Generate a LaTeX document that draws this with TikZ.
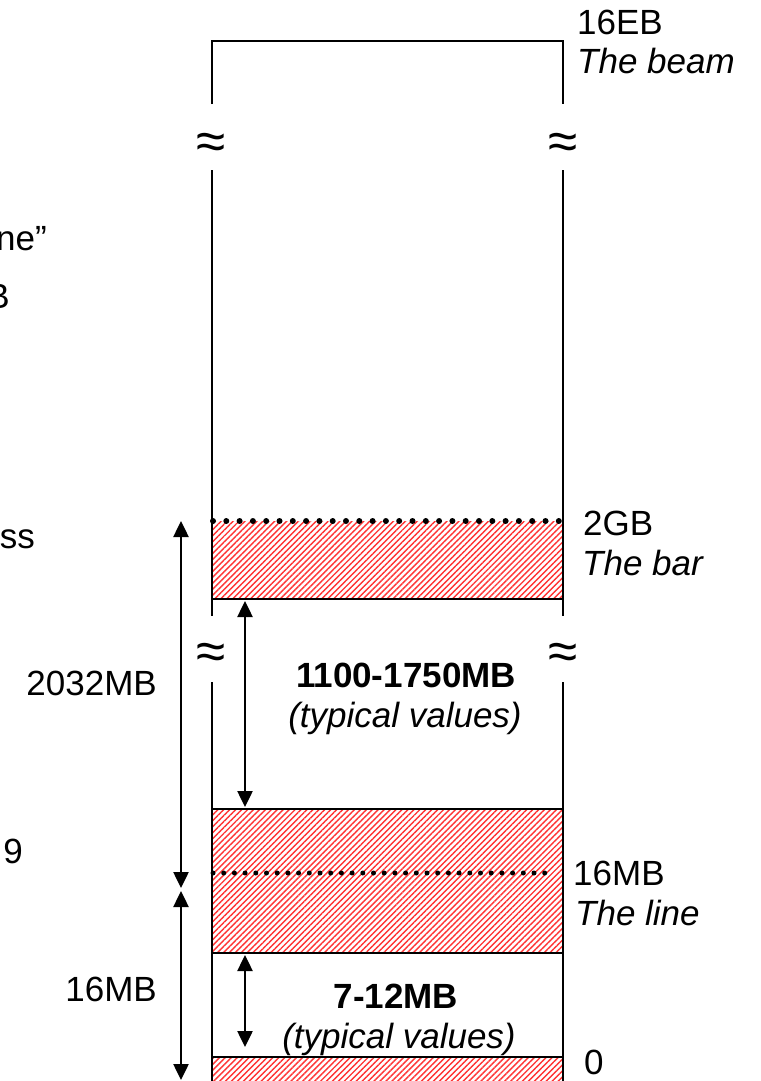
\documentclass[tikz,border=0pt]{standalone}
\usepackage{fontspec}
\setmainfont{Liberation Sans}
\usetikzlibrary{arrows.meta,patterns.meta}

\begin{document}
\begin{tikzpicture}[x=1pt,y=-1pt,
  wall/.style={line width=2.5pt},
  hatch/.style={pattern={Lines[angle=45,distance=4.2pt,line width=1.4pt]},pattern color=red!80},
  dots/.style={line width=6pt,line cap=round,dash pattern=on 0pt off 13.3pt},
  dim/.style={line width=2.5pt,{Triangle[width=15pt,length=16pt]}-{Triangle[width=15pt,length=16pt]}},
  txt/.style={font=\fontsize{35}{40}\selectfont,inner sep=0pt},
  levelval/.style={txt,anchor=base west},
  levelname/.style={inner sep=0pt,anchor=base west,font=\fontsize{35}{40}\selectfont\itshape},
  gap/.style={font=\fontsize{53}{53}\selectfont,inner sep=0pt}]
  \useasboundingbox (0,0) rectangle (760,1081);
  % hatched areas
  \fill[hatch] (212,521) rectangle (563,599);
  \fill[hatch] (212,809) rectangle (563,953);
  \fill[hatch] (212,1057) rectangle (563,1081);
  \draw[wall] (212,599) -- (563,599);
  \draw[wall] (212,809) -- (563,809);
  \draw[wall] (212,953) -- (563,953);
  \draw[wall] (212,1057) -- (563,1057);
  % walls, broken at the two gaps
  \draw[wall] (212,104) -- (212,41) -- (563,41) -- (563,104);
  \draw[wall] (212,170) -- (212,616);
  \draw[wall] (563,170) -- (563,616);
  \draw[wall] (212,682) -- (212,1081);
  \draw[wall] (563,682) -- (563,1081);
  \draw[dots] (213,521) -- (563,521);
  \draw[dots,line width=5pt,dash pattern=on 0pt off 10.7pt] (213,873) -- (555,873);
  \node[gap] (gap1l) at (211,146) {≈};
  \node[gap] (gap1r) at (563,146) {≈};
  \node[gap] (gap2l) at (211,656) {≈};
  \node[gap] (gap2r) at (563,656) {≈};
  % levels
  \node[levelval] (ebval) at (577,35) {16EB};
  \node[levelname] (ebname) at (577,74) {The beam};
  \node[levelval] (gbval) at (583,535) {2GB};
  \node[levelname] (gbname) at (582,575) {The bar};
  \node[levelval] (mbval) at (573,885) {16MB};
  \node[levelname] (mbname) at (575,925) {The line};
  \node[levelval] (zero) at (584,1074) {0};
  % spans
  \coordinate (spanTop) at (181,521);
  \coordinate (spanMidA) at (181,888);
  \coordinate (spanMidB) at (181,891);
  \coordinate (spanBot) at (181,1080);
  \coordinate (hiTop) at (245,601);
  \coordinate (hiBot) at (245,807);
  \coordinate (loTop) at (245,955);
  \coordinate (loBot) at (245,1047);
  \draw[dim] (spanTop) -- (spanMidA);
  \draw[dim] (spanMidB) -- (spanBot);
  \draw[dim] (hiTop) -- (hiBot);
  \draw[dim] (loTop) -- (loBot);
  \node[txt,anchor=base east] (hispan) at (157,695) {2032MB};
  \node[txt,anchor=base east] (lospan) at (157,1001) {16MB};
  \node[txt,anchor=base,font=\fontsize{35}{40}\selectfont\bfseries] (hityp) at (406,687) {1100-1750MB};
  \node[txt,anchor=base,font=\fontsize{35}{40}\selectfont\itshape] (hinote) at (405,727) {(typical values)};
  \node[txt,anchor=base,font=\fontsize{35}{40}\selectfont\bfseries] (lotyp) at (396,1008) {7-12MB};
  \node[txt,anchor=base,font=\fontsize{35}{40}\selectfont\itshape] (lonote) at (399,1048) {(typical values)};
  % cut-off text at the left edge
  \node[txt,anchor=base east] (cut1) at (47,250) {ne”};
  \node[txt,anchor=base east] (cut2) at (10,308) {B};
  \node[txt,anchor=base east] (cut3) at (35,548) {ss};
  \node[txt,anchor=base east] (cut4) at (23,863) {9};
\end{tikzpicture}
\end{document}
